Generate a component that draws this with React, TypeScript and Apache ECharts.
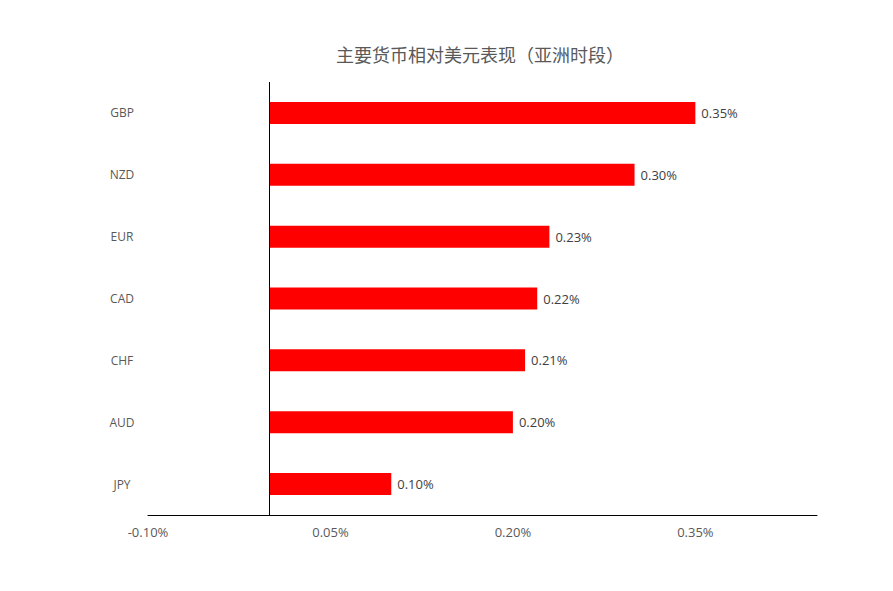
import React, { useEffect, useRef } from 'react';
import * as echarts from 'echarts';

// 数据
const currencies = ['GBP', 'NZD', 'EUR', 'CAD', 'CHF', 'AUD', 'JPY'];
const changes = [0.35, 0.30, 0.23, 0.22, 0.21, 0.20, 0.10];
const tickValues = [-0.1, 0.05, 0.2, 0.35];

const textColor = '#595959';
const fontFamily = '"Open Sans", "Noto Sans CJK SC", sans-serif';

const App: React.FC = () => {
  const chartRef = useRef<HTMLDivElement>(null);

  useEffect(() => {
    if (!chartRef.current) return;
    const chart = echarts.init(chartRef.current, undefined, { renderer: 'svg' });

    const option = {
      animation: false,
      title: {
        text: '主要货币相对美元表现（亚洲时段）',
        left: 467,
        top: 32,
        textAlign: 'center',
        textStyle: {
          color: textColor,
          fontSize: 18,
          fontWeight: 'normal',
          fontFamily: '"Noto Sans CJK SC", sans-serif'
        }
      },
      grid: {
        left: 140,
        right: 68,
        top: 74,
        bottom: 68,
        containLabel: false
      },
      xAxis: {
        type: 'value',
        min: -0.1,
        max: 0.45,
        splitLine: { show: false },
        axisTick: { show: false },
        axisLine: { show: true, onZero: false, lineStyle: { color: '#000', width: 1 } },
        axisLabel: {
          customValues: tickValues,
          color: textColor,
          fontSize: 13,
          fontFamily,
          margin: 10,
          formatter: (v: number) => `${v.toFixed(2)}%`
        }
      },
      yAxis: {
        type: 'category',
        inverse: true,
        data: currencies,
        axisLine: { show: false, onZero: false },
        axisTick: { show: false },
        splitLine: { show: false },
        axisLabel: {
          color: textColor,
          fontSize: 12,
          fontFamily,
          align: 'center',
          margin: 26
        }
      },
      series: [
        {
          type: 'bar',
          data: changes,
          barWidth: 22,
          itemStyle: { color: '#ff0000' },
          label: {
            show: true,
            position: 'right',
            distance: 6,
            color: '#404040',
            fontSize: 13,
            fontFamily,
            formatter: (p: any) => `${Number(p.value).toFixed(2)}%`
          },
          markLine: {
            silent: true,
            symbol: 'none',
            label: { show: false },
            lineStyle: { color: '#000', width: 1, type: 'solid' },
            data: [{ xAxis: 0 }]
          }
        }
      ]
    };

    chart.setOption(option);

    return () => {
      chart.dispose();
    };
  }, []);

  return <div ref={chartRef} style={{ width: '877px', height: '575px' }} />;
};

export default App;
